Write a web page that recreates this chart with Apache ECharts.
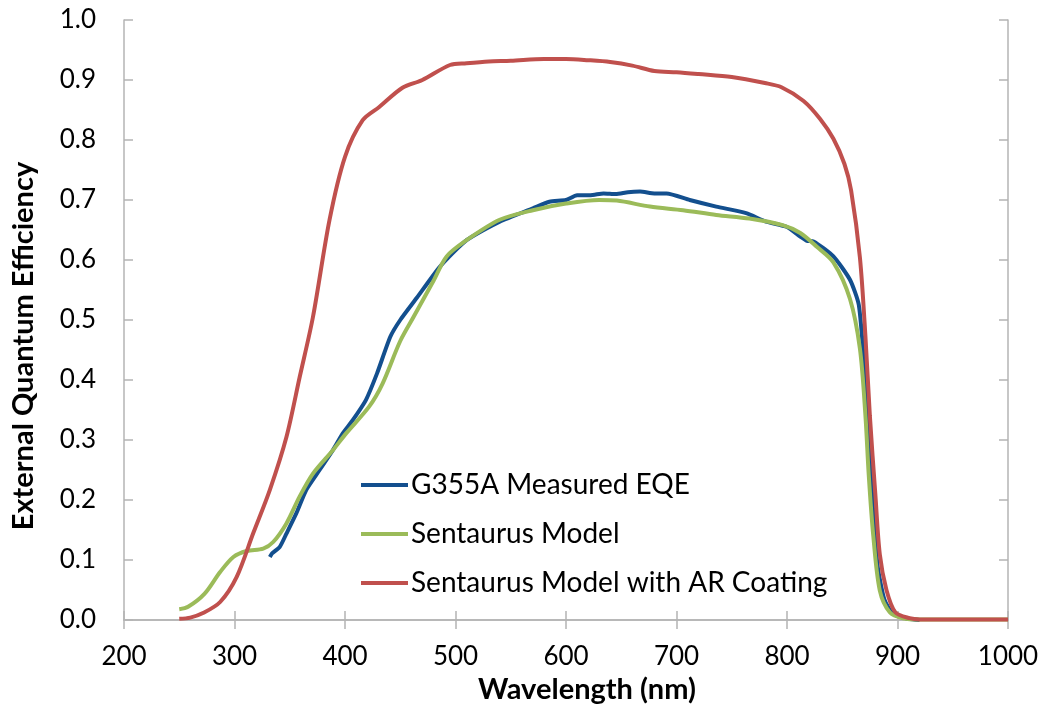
<!DOCTYPE html>
<html>
<head>
<meta charset="utf-8">
<script src="https://cdn.jsdelivr.net/npm/echarts@6/dist/echarts.min.js"></script>
<style>
html,body{margin:0;padding:0;background:#fff;}
#chart{width:1044px;height:711px;}
</style>
</head>
<body>
<div id="chart"></div>
<script>
// ---- data ----
const xTicks = [200, 300, 400, 500, 600, 700, 800, 900, 1000];
const yTicks = [0.0, 0.1, 0.2, 0.3, 0.4, 0.5, 0.6, 0.7, 0.8, 0.9, 1.0];

const seriesNames = ["G355A Measured EQE", "Sentaurus Model", "Sentaurus Model with AR Coating"];

const measuredWl = [332, 334, 341, 347, 356, 365, 377, 389, 398, 407, 419, 429, 441, 450, 465, 486, 510, 540, 570, 585, 600, 610, 622, 634, 645, 656, 667, 680, 691, 712, 736, 763, 781, 800, 812, 818, 824, 842, 857, 865, 870, 874, 878, 882, 888, 896, 910, 920];
const measuredEqe = [0.105, 0.111, 0.122, 0.144, 0.178, 0.217, 0.250, 0.283, 0.311, 0.333, 0.367, 0.411, 0.472, 0.500, 0.537, 0.589, 0.633, 0.664, 0.686, 0.697, 0.700, 0.708, 0.708, 0.711, 0.710, 0.713, 0.714, 0.711, 0.711, 0.700, 0.689, 0.678, 0.664, 0.655, 0.639, 0.632, 0.631, 0.606, 0.567, 0.525, 0.420, 0.300, 0.180, 0.090, 0.035, 0.010, 0.002, 0.000];

const modelWl = [250, 258, 273, 287, 299, 311, 326, 335, 347, 359, 371, 389, 401, 422, 434, 450, 462, 471, 480, 492, 510, 540, 570, 600, 630, 646, 676, 706, 736, 766, 796, 812, 827, 842, 857, 866, 871, 874, 878, 884, 893, 905, 920, 1000];
const modelEqe = [0.018, 0.022, 0.044, 0.080, 0.105, 0.115, 0.119, 0.130, 0.161, 0.206, 0.244, 0.283, 0.311, 0.356, 0.394, 0.465, 0.505, 0.535, 0.565, 0.606, 0.633, 0.667, 0.683, 0.694, 0.700, 0.699, 0.689, 0.683, 0.675, 0.669, 0.658, 0.645, 0.622, 0.596, 0.535, 0.452, 0.340, 0.241, 0.142, 0.049, 0.013, 0.003, 0.001, 0.001];

const arWl = [250, 260, 272, 287, 302, 317, 332, 347, 359, 371, 386, 400, 416, 431, 452, 470, 495, 510, 530, 550, 580, 600, 620, 640, 660, 680, 700, 720, 750, 780, 795, 815, 830, 842, 852, 858, 866, 871, 875, 880, 884, 890, 898, 911, 920, 1000];
const arEqe = [0.002, 0.004, 0.012, 0.030, 0.072, 0.145, 0.217, 0.305, 0.405, 0.505, 0.667, 0.772, 0.833, 0.855, 0.887, 0.900, 0.925, 0.928, 0.931, 0.932, 0.935, 0.935, 0.933, 0.930, 0.924, 0.915, 0.913, 0.910, 0.905, 0.895, 0.888, 0.865, 0.835, 0.802, 0.760, 0.716, 0.604, 0.472, 0.340, 0.208, 0.109, 0.050, 0.013, 0.003, 0.001, 0.001];

const colors = ["#134F8E", "#9BBB59", "#C0504D"];

function pairs(xs, ys) { return xs.map((x, i) => [x, ys[i]]); }

const FONT = "Lato";
const axisGray = "#B4B4B4";

const chart = echarts.init(document.getElementById("chart"), null, { renderer: "canvas" });

const baseX = {
  type: "value", min: xTicks[0], max: xTicks[xTicks.length - 1], interval: 100,
  axisLine: { show: true, lineStyle: { color: axisGray, width: 1.5 } },
  axisTick: { show: true, inside: true, length: 9, lineStyle: { color: axisGray, width: 1.5 } },
  splitLine: { show: false }
};
const baseY = {
  type: "value", min: yTicks[0], max: yTicks[yTicks.length - 1], interval: 0.1,
  axisLine: { show: true, lineStyle: { color: axisGray, width: 1.5 } },
  axisTick: { show: true, inside: true, length: 9, lineStyle: { color: axisGray, width: 1.5 } },
  splitLine: { show: false }
};

chart.setOption({
  animation: false,
  backgroundColor: "#ffffff",
  grid: { left: 124, right: 36, top: 20, bottom: 91, containLabel: false },
  xAxis: [
    Object.assign({}, baseX, {
      position: "bottom",
      axisLabel: { show: true, color: "#000", fontFamily: FONT, fontSize: 26, margin: 24,
        formatter: v => String(Math.round(v)) },
      name: "Wavelength (nm)", nameLocation: "middle", nameGap: 52,
      nameTextStyle: { color: "#000", fontFamily: FONT, fontWeight: "bold", fontSize: 29, padding: [0, 0, 0, 42] }
    }),
    Object.assign({}, baseX, { position: "top", axisLabel: { show: false } })
  ],
  yAxis: [
    Object.assign({}, baseY, {
      position: "left",
      axisLabel: { show: true, color: "#000", fontFamily: FONT, fontSize: 26, margin: 28,
        formatter: v => v.toFixed(1) },
      name: "External Quantum Efficiency", nameLocation: "middle", nameGap: 86,
      nameTextStyle: { color: "#000", fontFamily: FONT, fontWeight: "bold", fontSize: 29, padding: [0, 52, 0, 0] }
    }),
    Object.assign({}, baseY, { position: "right", axisLabel: { show: false } })
  ],
  legend: {
    orient: "vertical", left: 356, top: 466,
    itemWidth: 47, itemHeight: 4, itemGap: 21,
    icon: "rect",
    textStyle: { color: "#000", fontFamily: FONT, fontSize: 28, padding: [0, 0, 0, -2] },
    data: seriesNames
  },
  series: [
    { name: seriesNames[2], type: "line", data: pairs(arWl, arEqe), showSymbol: false, symbol: "none",
      smooth: 0.3, lineStyle: { color: colors[2], width: 4 }, itemStyle: { color: colors[2] }, z: 3 },
    { name: seriesNames[0], type: "line", data: pairs(measuredWl, measuredEqe), showSymbol: false, symbol: "none",
      smooth: 0.2, lineStyle: { color: colors[0], width: 4 }, itemStyle: { color: colors[0] }, z: 1 },
    { name: seriesNames[1], type: "line", data: pairs(modelWl, modelEqe), showSymbol: false, symbol: "none",
      smooth: 0.3, lineStyle: { color: colors[1], width: 4 }, itemStyle: { color: colors[1] }, z: 2 }
  ]
});
</script>
</body>
</html>
